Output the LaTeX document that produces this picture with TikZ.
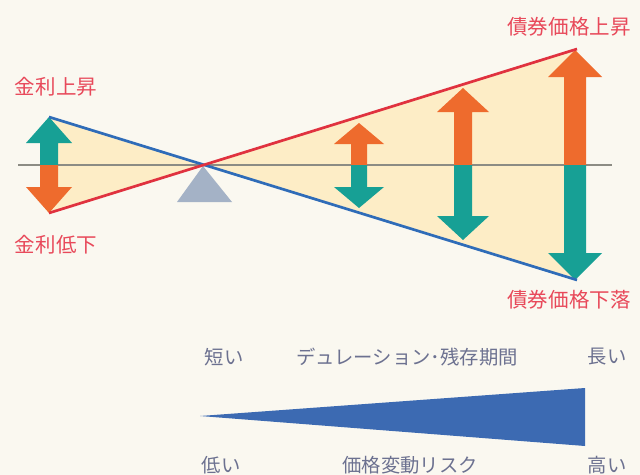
\documentclass[tikz,border=0pt]{standalone}
\usepackage{fontspec}
\newfontfamily\jpfont{Noto Sans CJK JP}
\usetikzlibrary{positioning}
\definecolor{paper}{HTML}{FAF8F0}
\definecolor{fanfill}{HTML}{FDEDC6}
\definecolor{axisgray}{HTML}{8C8C84}
\definecolor{pivotgray}{HTML}{A4B2C6}
\definecolor{rateblue}{HTML}{2F6CB8}
\definecolor{pricered}{HTML}{E0323F}
\definecolor{upteal}{HTML}{17A095}
\definecolor{uporange}{HTML}{EE6B2D}
\definecolor{labelred}{HTML}{E8495A}
\definecolor{labelgray}{HTML}{6C7190}
\definecolor{wedgeblue}{HTML}{3C6AB2}
\tikzset{
  redlabel/.style={font=\jpfont\fontsize{17.5}{20}\selectfont,text=labelred,inner sep=0pt},
  graylabel/.style={font=\jpfont\fontsize{16.5}{19}\selectfont,text=labelgray,inner sep=0pt}
}

\begin{document}
\begin{tikzpicture}[x=0.03cm,y=-0.03cm]
  \fill[paper] (0,0) rectangle (640,475);
  \useasboundingbox (0,0) rectangle (640,475);
  % fan between the two lines
  \coordinate (pivot) at (205,165);
  \fill[fanfill] (49,117) -- (pivot) -- (49,213) -- cycle;
  \fill[fanfill] (577,49) -- (pivot) -- (577,280) -- cycle;
  \draw[axisgray,line width=1.2pt] (18,165) -- (612,165);
  \fill[pivotgray] (203,166) -- (232,202) -- (177,202) -- cycle;
  % double arrows: x / top / bottom / top colour / bottom colour / shaft / head / head length
  \foreach \x/\t/\b/\ct/\cb/\s/\h/\l in {
      49/117/213/upteal/uporange/9/23/26,
      359/123/208/uporange/upteal/8/25/21,
      463/88/240/uporange/upteal/9/26/24,
      575/50/280/uporange/upteal/11/27/27} {
    \fill[\ct] (\x,\t) -- (\x+\h,\t+\l) -- (\x+\s,\t+\l) -- (\x+\s,165)
      -- (\x-\s,165) -- (\x-\s,\t+\l) -- (\x-\h,\t+\l) -- cycle;
    \fill[\cb] (\x,\b) -- (\x+\h,\b-\l) -- (\x+\s,\b-\l) -- (\x+\s,165)
      -- (\x-\s,165) -- (\x-\s,\b-\l) -- (\x-\h,\b-\l) -- cycle;
  }
  \draw[rateblue,line width=2.3pt] (49,117) -- (577,280);
  \draw[pricered,line width=2.3pt] (49,213) -- (577,49);
  \node[redlabel] (rateup) at (56,87) {金利上昇};
  \node[redlabel] (ratedown) at (56,245) {金利低下};
  \node[redlabel] (priceup) at (569,27) {債券価格上昇};
  \node[redlabel] (pricedown) at (569,300) {債券価格下落};
  % duration and risk scale
  \node[graylabel] (short) at (224,357) {短い};
  \node[graylabel] (duration) at (407,357) {デュレーション･残存期間};
  \node[graylabel] (long) at (607,357) {長い};
  \fill[wedgeblue] (200,416) -- (585,388) -- (585,446) -- cycle;
  \node[graylabel] (low) at (221,465) {低い};
  \node[graylabel] (risk) at (410,465) {価格変動リスク};
  \node[graylabel] (high) at (607,465) {高い};
\end{tikzpicture}
\end{document}
